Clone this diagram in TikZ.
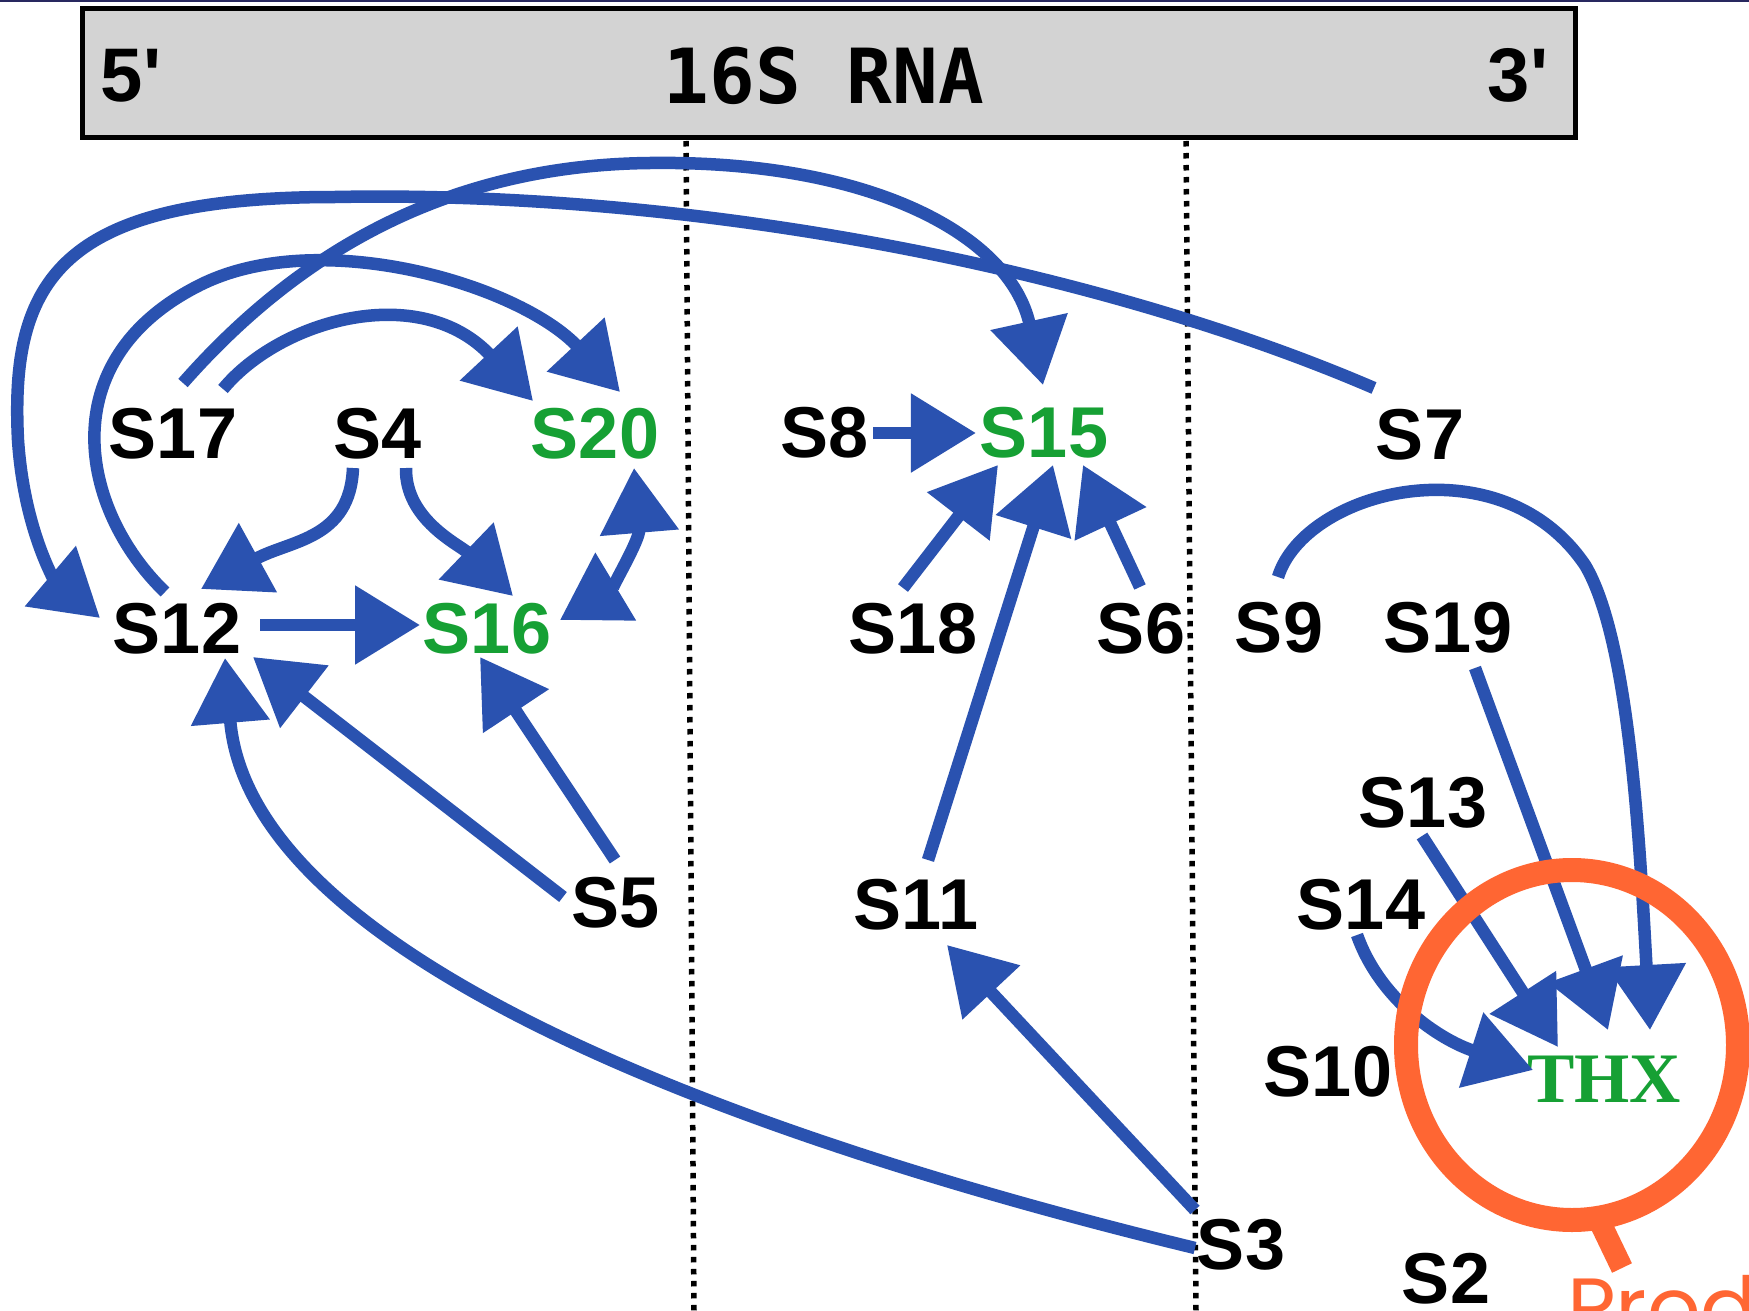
\documentclass[tikz,border=0pt]{standalone}
\usepackage{fontspec}
\setmainfont{Liberation Sans}
\newfontfamily\hdrfont{DejaVu Sans Mono}
\newfontfamily\thxfont{Liberation Serif}
\newfontfamily\prodfont{Poppins}
\usetikzlibrary{arrows.meta,calc}
\definecolor{edgeblue}{RGB}{42,82,176}
\definecolor{labgreen}{RGB}{22,160,52}
\definecolor{markorange}{RGB}{255,102,51}
\definecolor{boxgray}{RGB}{211,211,211}
\definecolor{topnavy}{RGB}{40,40,95}
\begin{document}
\begin{tikzpicture}[x=1pt,y=-1pt,
  lab/.style={font=\fontsize{72}{80}\selectfont\bfseries, inner sep=0pt, outer sep=4pt, text=black},
  glab/.style={lab, text=labgreen},
  hdr/.style={font=\hdrfont\fontsize{76}{80}\selectfont\bfseries, inner sep=0pt},
  endlab/.style={font=\fontsize{76}{80}\selectfont\bfseries, inner sep=0pt},
  arr/.style={draw=edgeblue, line width=12.5pt, -{Triangle[length=65pt,width=76pt]}},
  darr/.style={draw=edgeblue, line width=12.5pt, {Triangle[length=65pt,width=76pt]}-{Triangle[length=65pt,width=76pt]}},
  dots/.style={line width=5.5pt, dash pattern=on 5.5pt off 6.5pt},
]
\useasboundingbox (0,0) rectangle (1749,1311);
\clip (0,0) rectangle (1749,1311);
\fill[white] (0,0) rectangle (1749,1311);
\fill[topnavy] (0,0) rectangle (1749,2.5);

% header bar
\draw[line width=5pt, fill=boxgray] (82,9) rectangle (1575,138);
\node[endlab] (five) at (131,76) {5\textquotesingle};
\node[hdr] (rna) at (824,76) {16S RNA};
\node[endlab] (three) at (1518,75) {3\textquotesingle};

% dotted separators
\draw[dots] (686,141) -- (694,1311);
\draw[dots] (1186,141) -- (1196,1311);

% labels
\node[lab]  (S17) at (173,434) {S17};
\node[lab]  (S4)  at (378,434) {S4};
\node[glab] (S20) at (595,434) {S20};
\node[lab]  (S8)  at (825,433) {S8};
\node[glab] (S15) at (1044,433) {S15};
\node[lab]  (S7)  at (1420,435) {S7};
\node[lab]  (S12) at (177,629) {S12};
\node[glab] (S16) at (487,629) {S16};
\node[lab]  (S18) at (913,629) {S18};
\node[lab]  (S6)  at (1141,629) {S6};
\node[lab]  (S9)  at (1279,628) {S9};
\node[lab]  (S19) at (1448,628) {S19};
\node[lab]  (S13) at (1423,803) {S13};
\node[lab]  (S5)  at (616,903) {S5};
\node[lab]  (S11) at (916,905) {S11};
\node[lab]  (S14) at (1361,905) {S14};
\node[lab]  (S10) at (1328,1072) {S10};
\node[font=\thxfont\fontsize{71}{80}\selectfont\bfseries, text=labgreen, inner sep=0pt, outer sep=4pt] (THX) at (1604,1079) {THX};
\node[lab]  (S3)  at (1241,1245) {S3};
\node[lab]  (S2)  at (1446,1279) {S2};

% connectors
\draw[arr] (S8) -- (S15);
\draw[arr] ($(S18)+(-10,-41)$) -- ($(S15)+(-46,32)$);
\draw[arr] ($(S11)+(12,-45)$) -- ($(S15)+(9,32)$);
\draw[arr] ($(S6)+(-1,-42)$) -- ($(S15)+(39,32)$);
\draw[arr] ($(S17)+(10,-51)$) .. controls (300,250) and (450,165) .. (650,163)
   .. controls (870,160) and (1010,235) .. ($(S15)+(-1,-48)$);
\draw[arr] ($(S7)+(-46,-47)$) .. controls (1100,270) and (700,190) .. (335,197)
   .. controls (60,197) and (10,280) .. (18,440)
   .. controls (24,530) and (55,580) .. ($(S12)+(-77,-11)$);
\draw[arr] ($(S12)+(-12,-37)$) .. controls (80,510) and (50,360) .. (200,285)
   .. controls (320,225) and (520,285) .. ($(S20)+(25,-42)$);
\draw[arr] ($(S17)+(50,-45)$) .. controls (280,320) and (420,280) .. ($(S20)+(-62,-33)$);
\draw[arr] ($(S4)+(-25,34)$) .. controls (350,540) and (290,540) .. ($(S12)+(24,-40)$);
\draw[arr] ($(S4)+(28,34)$) .. controls (405,520) and (460,545) .. ($(S16)+(26,-33)$);
\draw[arr] ($(S12)+(83,-4)$) -- ($(S16)+(-67,-4)$);
\draw[darr] ($(S16)+(73,-9)$) .. controls (610,590) and (640,540) .. ($(S20)+(39,34)$);
\draw[arr] ($(S5)+(-1,-43)$) -- ($(S16)+(-7,28)$);
\draw[arr] ($(S5)+(-53,-6)$) -- ($(S12)+(76,28)$);
\draw[arr] ($(S3)+(-46,3)$) .. controls (750,1140) and (250,960) .. ($(S12)+(48,29)$);
\draw[arr] ($(S3)+(-46,-35)$) -- ($(S11)+(31,40)$);
\draw[arr] ($(S9)+(-1,-51)$) .. controls (1305,490) and (1500,440) .. (1585,565)
   .. controls (1630,640) and (1640,850) .. ($(THX)+(46,-49)$);
\draw[arr] ($(S19)+(27,40)$) -- ($(THX)+(4,-49)$);
\draw[arr] ($(S13)+(-1,33)$) -- ($(THX)+(-46,-32)$);
\draw[arr] ($(S14)+(-4,30)$) .. controls (1380,1000) and (1440,1040) .. ($(THX)+(-71,-9)$);

% orange annotation
\draw[markorange, line width=24pt] (1572,1045) ellipse [x radius=166, y radius=175];
\draw[markorange, line width=22pt] (1596,1214) -- (1622,1268);
\node[font=\prodfont\fontsize{84}{90}\selectfont, text=markorange, inner sep=0pt, anchor=base west] (prod) at (1567,1337) {Prod};
\end{tikzpicture}
\end{document}
